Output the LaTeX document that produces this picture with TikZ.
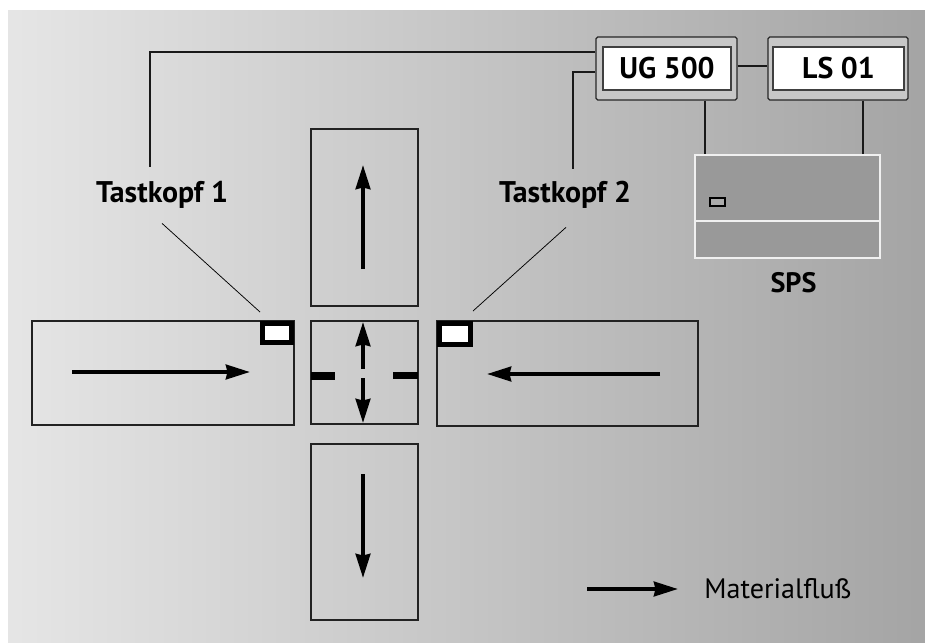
\documentclass[tikz,border=0pt]{standalone}
\usepackage{fontspec}
\setmainfont{PT Sans}
\usetikzlibrary{arrows.meta}
\definecolor{edgegray}{HTML}{222222}
\begin{document}
\begin{tikzpicture}[>={Stealth[length=0.48cm,width=0.29cm,inset=0.03cm]},
  back/.style={left color=black!10,right color=black!35.5,inner sep=0pt,minimum width=18.34cm,minimum height=12.64cm},
  belt/.style={draw=edgegray,line width=0.03cm,inner sep=0pt},
  sensor/.style={draw=black,fill=white,line width=0.1cm,inner sep=0pt},
  bar/.style={fill=black,inner sep=0pt},
  outer/.style={draw=black!85,fill=black!22,rounded corners=1pt,line width=0.025cm,minimum width=2.8cm,minimum height=1.26cm,inner sep=0pt},
  inner/.style={draw=black!75,fill=white,line width=0.03cm,minimum height=0.86cm,inner sep=0pt,font=\fontsize{17}{20}\selectfont\bfseries},
  label/.style={inner sep=0pt,font=\fontsize{17}{20}\selectfont\bfseries},
  head/.style={label,minimum height=1.12cm},
  wire/.style={black!90,line width=0.04cm},
  lead/.style={black,line width=0.015cm},
  flow/.style={->,black,line width=0.08cm},
  spsedge/.style={draw=black!6,line width=0.04cm}]
\useasboundingbox (0,0) rectangle (18.5,-12.84);
\node[back] (bg) at (9.33,-6.52) {};
\node[belt,minimum width=2.14cm,minimum height=3.54cm] (top) at (7.29,-4.35) {};
\node[belt,minimum width=2.14cm,minimum height=2.06cm] (mid) at (7.29,-7.45) {};
\node[belt,minimum width=2.14cm,minimum height=3.52cm] (bottom) at (7.29,-10.64) {};
\node[belt,minimum width=5.24cm,minimum height=2.08cm] (left) at (3.26,-7.46) {};
\node[belt,minimum width=5.22cm,minimum height=2.10cm] (right) at (11.35,-7.47) {};
\node[sensor,minimum width=0.58cm,minimum height=0.38cm] (sen1) at (5.54,-6.66) {};
\node[sensor,minimum width=0.62cm,minimum height=0.42cm] (sen2) at (9.10,-6.68) {};
\node[bar,minimum width=0.48cm,minimum height=0.16cm] (bar1) at (6.46,-7.52) {};
\node[bar,minimum width=0.50cm,minimum height=0.14cm] (bar2) at (8.11,-7.51) {};
\node[outer,minimum width=2.82cm] (ug) at (13.33,-1.37) {};
\node[outer] (ls) at (16.76,-1.37) {};
\node[inner,minimum width=2.56cm] (ugtext) at (13.34,-1.37) {UG 500};
\node[inner,minimum width=2.62cm] (lstext) at (16.77,-1.37) {LS 01};
\node[fill=black!40,spsedge,minimum width=3.70cm,minimum height=2.06cm,inner sep=0pt] (sps) at (15.75,-4.13) {};
\node[draw=black,fill=black!33,line width=0.04cm,minimum width=0.30cm,minimum height=0.16cm,inner sep=0pt] (led) at (14.35,-4.04) {};
\node[label,font=\fontsize{16}{20}\selectfont\bfseries] (spstext) at (15.87,-5.66) {SPS};
\node[head] (tk1) at (3.24,-3.90) {Tastkopf 1};
\node[head] (tk2) at (11.30,-3.90) {Tastkopf 2};
\node[inner sep=0pt,anchor=west,font=\fontsize{16}{20}\selectfont] (legend) at (14.08,-11.78) {Materialfluß};
\coordinate (topa) at (7.26,-5.38);
\coordinate (topb) at (7.26,-3.30);
\coordinate (upa) at (7.26,-7.38);
\coordinate (upb) at (7.26,-6.44);
\coordinate (downa) at (7.26,-7.56);
\coordinate (downb) at (7.26,-8.46);
\coordinate (bota) at (7.26,-9.48);
\coordinate (botb) at (7.26,-11.56);
\coordinate (lefta) at (1.44,-7.44);
\coordinate (leftb) at (5.00,-7.44);
\coordinate (righta) at (13.20,-7.48);
\coordinate (rightb) at (9.74,-7.48);
\coordinate (lega) at (11.74,-11.78);
\coordinate (legb) at (13.56,-11.78);
\draw[flow] (topa)--(topb);
\draw[flow] (upa)--(upb);
\draw[flow] (downa)--(downb);
\draw[flow] (bota)--(botb);
\draw[flow] (lefta)--(leftb);
\draw[flow] (righta)--(rightb);
\draw[flow] (lega)--(legb);
\draw[spsedge] ([yshift=-0.29cm]sps.west)--([yshift=-0.29cm]sps.east);
\draw[wire] ([yshift=0.33cm]ug.west) -| ([xshift=-0.24cm]tk1.north);
\draw[wire] ([yshift=-0.07cm]ug.west) -| ([xshift=0.16cm,yshift=-0.04cm]tk2.north);
\draw[wire] ([yshift=0.05cm]ug.east)--([yshift=0.05cm]ls.west);
\draw[wire] ([xshift=0.77cm]ug.south)--([xshift=0.77cm]ug.south |- sps.north);
\draw[wire] ([xshift=0.50cm]ls.south)--([xshift=0.50cm]ls.south |- sps.north);
\draw[lead] (tk1.south)--([yshift=0.18cm]sen1.north west);
\draw[lead] ([xshift=0.02cm,yshift=-0.08cm]tk2.south)--([yshift=0.20cm]sen2.north east);
\end{tikzpicture}
\end{document}
